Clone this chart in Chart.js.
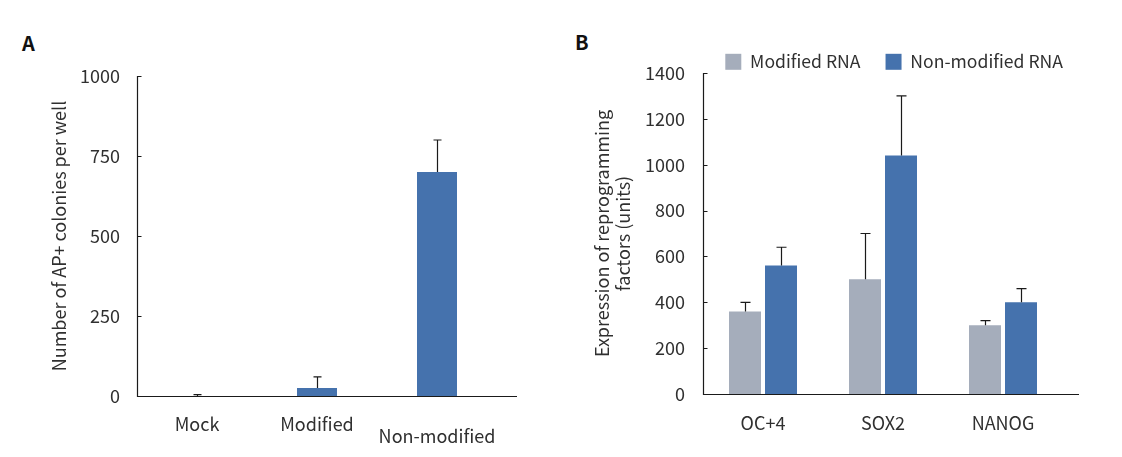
<!DOCTYPE html>
<html>
<head>
<meta charset="utf-8">
<script src="https://cdn.jsdelivr.net/npm/chart.js@4.4.1/dist/chart.umd.min.js"></script>
<style>
  html, body { margin: 0; padding: 0; background: #fff; }
  #wrap { position: relative; width: 1122px; height: 457px; overflow: hidden; }
  canvas { position: absolute; top: 0; }
  #chartA { left: 0; }
  #chartB { left: 560px; }
  .panel { position: absolute; font: bold 20px "Noto Sans CJK KR", sans-serif; line-height: 20px; color: #111; }
</style>
</head>
<body>
<div id="wrap">
  <div class="panel" style="left:22px;top:33px">A</div>
  <div class="panel" style="left:575px;top:32px">B</div>
  <canvas id="chartA" width="540" height="457"></canvas>
  <canvas id="chartB" width="528" height="457"></canvas>
</div>
<script>
const FONT = '"Noto Sans CJK KR", "Noto Sans", sans-serif';
const TEXT = '#303030';
const BLUE = '#4572ad';
const GRAY = '#a5adbb';

// Panel A: AP+ colonies per well
const groupsA = ['Mock', 'Modified', 'Non-modified'];
const coloniesA = [0, 25, 700];
const coloniesErrA = [4, 35, 100];
const ticksA = [0, 250, 500, 750, 1000];

// Panel B: expression of reprogramming factors
const genesB = ['OC+4', 'SOX2', 'NANOG'];
const modifiedB = [360, 500, 300];
const modifiedErrB = [40, 200, 20];
const nonModifiedB = [560, 1040, 400];
const nonModifiedErrB = [80, 260, 60];
const ticksB = [0, 200, 400, 600, 800, 1000, 1200, 1400];

// draws the upper error bars, the axis lines and the small inside ticks
const axesAndErrors = {
  id: 'axesAndErrors',
  afterDatasetsDraw(chart, args, opts) {
    const { ctx, chartArea: area, scales: { y } } = chart;
    ctx.save();
    ctx.strokeStyle = '#1a1a1a';
    ctx.lineWidth = 1.2;

    chart.data.datasets.forEach((ds, i) => {
      chart.getDatasetMeta(i).data.forEach((bar, j) => {
        const top = y.getPixelForValue(ds.data[j] + ds.errors[j]);
        const bx = Math.round(bar.x) + 0.5;
        ctx.beginPath();
        ctx.moveTo(bx, bar.y);
        ctx.lineTo(bx, top);
        ctx.moveTo(bx - opts.cap / 2, top);
        ctx.lineTo(bx + opts.cap / 2, top);
        ctx.stroke();
      });
    });

    const left = Math.round(area.left) + 0.5;
    const bottom = Math.round(area.bottom) + 0.5;
    ctx.beginPath();
    ctx.moveTo(left, area.top);
    ctx.lineTo(left, bottom);
    ctx.lineTo(area.right + opts.extend, bottom);
    y.ticks.forEach(t => {
      const py = Math.round(y.getPixelForValue(t.value)) + 0.5;
      ctx.moveTo(left, py);
      ctx.lineTo(left + 4, py);
    });
    ctx.stroke();
    ctx.restore();
  }
};

const tickFont = { family: FONT, size: 18 };
const plainNumber = v => String(v);

new Chart(document.getElementById('chartA'), {
  type: 'bar',
  data: {
    labels: groupsA,
    datasets: [{
      data: coloniesA,
      errors: coloniesErrA,
      backgroundColor: BLUE,
      categoryPercentage: 1,
      barPercentage: 1 / 3
    }]
  },
  options: {
    responsive: false,
    animation: false,
    layout: { padding: { top: 76, right: 43, bottom: 0, left: 0 } },
    plugins: {
      legend: { display: false },
      tooltip: { enabled: false },
      axesAndErrors: { cap: 8, extend: 20 }
    },
    scales: {
      x: {
        grid: { display: false, drawTicks: false },
        border: { display: false },
        ticks: {
          color: TEXT,
          font: { family: FONT, size: 18, lineHeight: '12px' },
          padding: 22,
          maxRotation: 0,
          autoSkip: false,
          // the last label sits a little lower in the figure
          callback: (v, i) => i === 2 ? ['', groupsA[i]] : groupsA[i]
        },
        afterFit: s => { s.height = 61; }
      },
      y: {
        min: 0,
        max: 1000,
        grid: { display: false, drawTicks: false },
        border: { display: false },
        afterBuildTicks: s => { s.ticks = ticksA.map(v => ({ value: v })); },
        ticks: { color: TEXT, font: tickFont, padding: 17, callback: plainNumber },
        title: {
          display: true,
          text: 'Number of AP+ colonies per well',
          color: TEXT,
          font: { family: FONT, size: 18 },
          padding: { top: 48, bottom: 0 }
        },
        afterFit: s => { s.width = 137; }
      }
    }
  },
  plugins: [axesAndErrors]
});

new Chart(document.getElementById('chartB'), {
  type: 'bar',
  data: {
    labels: genesB,
    datasets: [
      { label: 'Modified RNA', data: modifiedB, errors: modifiedErrB, backgroundColor: GRAY },
      { label: 'Non-modified RNA', data: nonModifiedB, errors: nonModifiedErrB, backgroundColor: BLUE }
    ]
  },
  options: {
    responsive: false,
    animation: false,
    datasets: { bar: { categoryPercentage: 0.6, barPercentage: 32 / 36 } },
    layout: { padding: { top: 28, right: 0, bottom: 0, left: 0 } },
    plugins: {
      legend: {
        align: 'end',
        maxHeight: 45,
        labels: {
          boxWidth: 16,
          boxHeight: 16,
          padding: 25,
          color: TEXT,
          font: { family: FONT, size: 17.6 }
        }
      },
      tooltip: { enabled: false },
      axesAndErrors: { cap: 10, extend: 16 }
    },
    scales: {
      x: {
        grid: { display: false, drawTicks: false },
        border: { display: false },
        ticks: { color: TEXT, font: tickFont, padding: 18, maxRotation: 0 },
        afterFit: s => { s.height = 63; }
      },
      y: {
        min: 0,
        max: 1400,
        grid: { display: false, drawTicks: false },
        border: { display: false },
        afterBuildTicks: s => { s.ticks = ticksB.map(v => ({ value: v })); },
        ticks: { color: TEXT, font: tickFont, padding: 18, callback: plainNumber },
        title: {
          display: true,
          text: ['Expression of reprogramming', 'factors (units)'],
          color: TEXT,
          font: { family: FONT, size: 18, lineHeight: 1.17 },
          padding: { top: 31.5, bottom: 0 }
        },
        afterFit: s => { s.width = 143; }
      },
      // empty strip on the right so the legend can reach past the bars
      yRight: {
        type: 'linear',
        position: 'right',
        grid: { display: false, drawTicks: false },
        border: { display: false },
        ticks: { display: false },
        afterFit: s => { s.width = 25; }
      }
    }
  },
  plugins: [axesAndErrors]
});
</script>
</body>
</html>
